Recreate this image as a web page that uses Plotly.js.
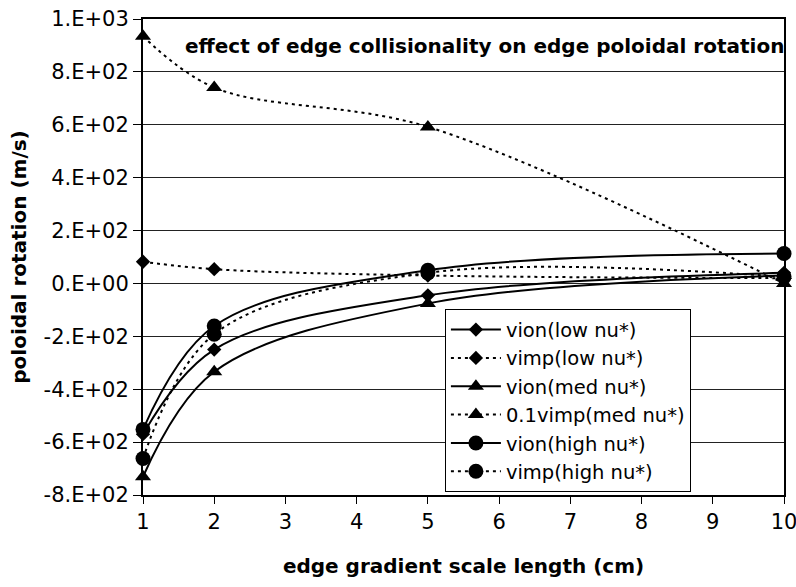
<!DOCTYPE html>
<html>
<head>
<meta charset="utf-8">
<script src="https://cdn.plot.ly/plotly-3.0.1.min.js"></script>
<style>html,body{margin:0;padding:0;background:#fff;}#chart{width:796px;height:587px;}</style>
</head>
<body>
<div id="chart"></div>
<script>
// x values: edge gradient scale length (cm)
const scaleLength = [1, 2, 5, 10];
// series values (m/s)
const vionLow   = [-570, -250, -45, 40];
const vimpLow   = [82, 54, 30, 20];
const vionMed   = [-731, -334, -76, 30];
const vimpMed01 = [935, 741, 592, 0];
const vionHigh  = [-552, -161, 50, 113];
const vimpHigh  = [-662, -192, 40, 25];

const seriesNames = ["vion(low nu*)", "vimp(low nu*)", "vion(med nu*)", "0.1vimp(med nu*)", "vion(high nu*)", "vimp(high nu*)"];
const yTickVals = [-800, -600, -400, -200, 0, 200, 400, 600, 800, 1000];
const yTickText = ["-8.E+02", "-6.E+02", "-4.E+02", "-2.E+02", "0.E+00", "2.E+02", "4.E+02", "6.E+02", "8.E+02", "1.E+03"];
const xTickVals = [1, 2, 3, 4, 5, 6, 7, 8, 9, 10];

const FONT = "DejaVu Sans, Liberation Sans, Arial, sans-serif";

function mk(y, name, symbol, size, dotted) {
  return {
    x: scaleLength, y: y, name: name, type: "scatter", mode: "lines+markers",
    line: {color: "#000", width: 2, dash: dotted ? "3px,4px" : "solid", shape: "spline", smoothing: 1},
    marker: {symbol: symbol, size: size, color: "#000"},
    cliponaxis: false
  };
}

const data = [
  mk(vionLow, seriesNames[0], "diamond", 11, false),
  mk(vimpLow, seriesNames[1], "diamond", 11, true),
  mk(vionMed, seriesNames[2], "triangle-up", 14, false),
  mk(vimpMed01, seriesNames[3], "triangle-up", 14, true),
  mk(vionHigh, seriesNames[4], "circle", 15, false),
  mk(vimpHigh, seriesNames[5], "circle", 15, true)
];

const layout = {
  width: 796, height: 587,
  margin: {l: 143, r: 12, t: 19, b: 92},
  paper_bgcolor: "#fff", plot_bgcolor: "#fff",
  font: {family: FONT, size: 20, color: "#000"},
  showlegend: true,
  legend: {
    x: 0.471, y: 0.39, xanchor: "left", yanchor: "top",
    bgcolor: "#fff", bordercolor: "#000", borderwidth: 1,
    font: {family: FONT, size: 19.5, color: "#000"},
    itemwidth: 50, tracegroupgap: 0
  },
  xaxis: {
    range: [1, 10], tickvals: xTickVals, ticktext: xTickVals.map(String),
    showgrid: false, zeroline: false,
    showline: true, linecolor: "#000", linewidth: 2, mirror: true,
    ticks: "outside", ticklen: 7, tickwidth: 1, tickcolor: "#000",
    tickfont: {family: FONT, size: 21}, ticklabeloverflow: "allow",
    title: {text: "edge gradient scale length (cm)", font: {family: FONT, size: 20, weight: "bold"}, standoff: 26}
  },
  yaxis: {
    range: [-800, 1000], tickvals: yTickVals, ticktext: yTickText,
    showgrid: true, gridcolor: "#222", gridwidth: 1, zeroline: false,
    showline: true, linecolor: "#000", linewidth: 2, mirror: true,
    ticks: "outside", ticklen: 8, tickwidth: 1, tickcolor: "#000",
    tickfont: {family: FONT, size: 21}, ticklabeloverflow: "allow",
    title: {text: "poloidal rotation (m/s)", font: {family: FONT, size: 20, weight: "bold"}, standoff: 12}
  },
  annotations: [{
    xref: "paper", yref: "paper", x: 1.003, y: 0.943, xanchor: "right", yanchor: "middle",
    text: "effect of edge collisionality on edge poloidal rotation", showarrow: false,
    font: {family: FONT, size: 20, weight: "bold", color: "#000"}
  }]
};

Plotly.newPlot("chart", data, layout, {displayModeBar: false, staticPlot: true});
</script>
</body>
</html>
